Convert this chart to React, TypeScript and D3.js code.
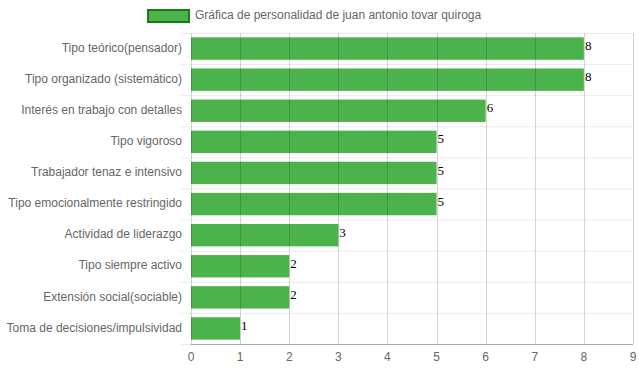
import { useEffect, useRef } from "react";
import * as d3 from "d3";

const categories = [
  "Tipo teórico(pensador)",
  "Tipo organizado (sistemático)",
  "Interés en trabajo con detalles",
  "Tipo vigoroso",
  "Trabajador tenaz e intensivo",
  "Tipo emocionalmente restringido",
  "Actividad de liderazgo",
  "Tipo siempre activo",
  "Extensión social(sociable)",
  "Toma de decisiones/impulsividad",
];
const values = [8, 8, 6, 5, 5, 5, 3, 2, 2, 1];
const xTicks = [0, 1, 2, 3, 4, 5, 6, 7, 8, 9];
const legendLabel = "Gráfica de personalidad de juan antonio tovar quiroga";

const W = 639;
const H = 372;
const sans = "'Liberation Sans', Arial, sans-serif";
const green = "#4cb34c";

export default function App() {
  const ref = useRef<SVGSVGElement>(null);

  useEffect(() => {
    const svg = d3.select(ref.current);
    svg.selectAll("*").remove();

    const left = 191, right = 633, top = 33, bottom = 344;

    const x = d3.scaleLinear().domain([0, 9]).range([left, right]);
    const y = d3
      .scaleBand()
      .domain(categories)
      .range([top, bottom])
      .paddingInner(0.28)
      .paddingOuter(0.14);
    const step = y.step();

    // horizontal grid (row boundaries)
    svg
      .append("g")
      .selectAll("line")
      .data(d3.range(categories.length + 1))
      .enter()
      .append("line")
      .attr("x1", left - 10)
      .attr("x2", right)
      .attr("y1", (i) => top + i * step + 0.5)
      .attr("y2", (i) => top + i * step + 0.5)
      .attr("stroke", "rgba(0,0,0,0.08)");

    // bars
    svg
      .append("g")
      .selectAll("rect")
      .data(values)
      .enter()
      .append("rect")
      .attr("x", x(0))
      .attr("y", (_, i) => y(categories[i])!)
      .attr("width", (d) => x(d) - x(0))
      .attr("height", y.bandwidth())
      .attr("fill", green);

    // vertical grid
    svg
      .append("g")
      .selectAll("line")
      .data(xTicks)
      .enter()
      .append("line")
      .attr("x1", (d) => Math.round(x(d)) + 0.5)
      .attr("x2", (d) => Math.round(x(d)) + 0.5)
      .attr("y1", top)
      .attr("y2", bottom)
      .attr("stroke", "rgba(0,0,0,0.17)");

    // bottom axis line
    svg
      .append("line")
      .attr("x1", left)
      .attr("x2", right)
      .attr("y1", bottom + 0.5)
      .attr("y2", bottom + 0.5)
      .attr("stroke", "rgba(0,0,0,0.3)");

    // x tick labels
    svg
      .append("g")
      .selectAll("text")
      .data(xTicks)
      .enter()
      .append("text")
      .attr("x", (d) => x(d))
      .attr("y", 361)
      .attr("text-anchor", "middle")
      .attr("font-family", sans)
      .attr("font-size", 12)
      .attr("fill", "#666")
      .text((d) => d);

    // category labels
    svg
      .append("g")
      .selectAll("text")
      .data(categories)
      .enter()
      .append("text")
      .attr("x", 182)
      .attr("y", (d) => y(d)! + y.bandwidth() / 2 - 1)
      .attr("dy", "0.35em")
      .attr("text-anchor", "end")
      .attr("font-family", sans)
      .attr("font-size", 12)
      .attr("fill", "#666")
      .text((d) => d);

    // value labels
    svg
      .append("g")
      .selectAll("text")
      .data(values)
      .enter()
      .append("text")
      .attr("x", (d) => x(d) + 1)
      .attr("y", (_, i) => y(categories[i])! + y.bandwidth() / 2 - 3)
      .attr("dy", "0.35em")
      .attr("font-family", "'Liberation Serif', 'Times New Roman', serif")
      .attr("font-size", 13)
      .attr("fill", "#000")
      .text((d) => d);

    // legend
    svg
      .append("rect")
      .attr("x", 148)
      .attr("y", 10)
      .attr("width", 41)
      .attr("height", 12)
      .attr("fill", green)
      .attr("stroke", "#187a18")
      .attr("stroke-width", 2);
    svg
      .append("text")
      .attr("x", 195)
      .attr("y", 15)
      .attr("dy", "0.35em")
      .attr("font-family", sans)
      .attr("font-size", 12)
      .attr("fill", "#666")
      .text(legendLabel);
  }, []);

  return (
    <svg
      ref={ref}
      width={W}
      height={H}
      style={{ position: "absolute", left: 0, top: 0, background: "#fff" }}
    ></svg>
  );
}
